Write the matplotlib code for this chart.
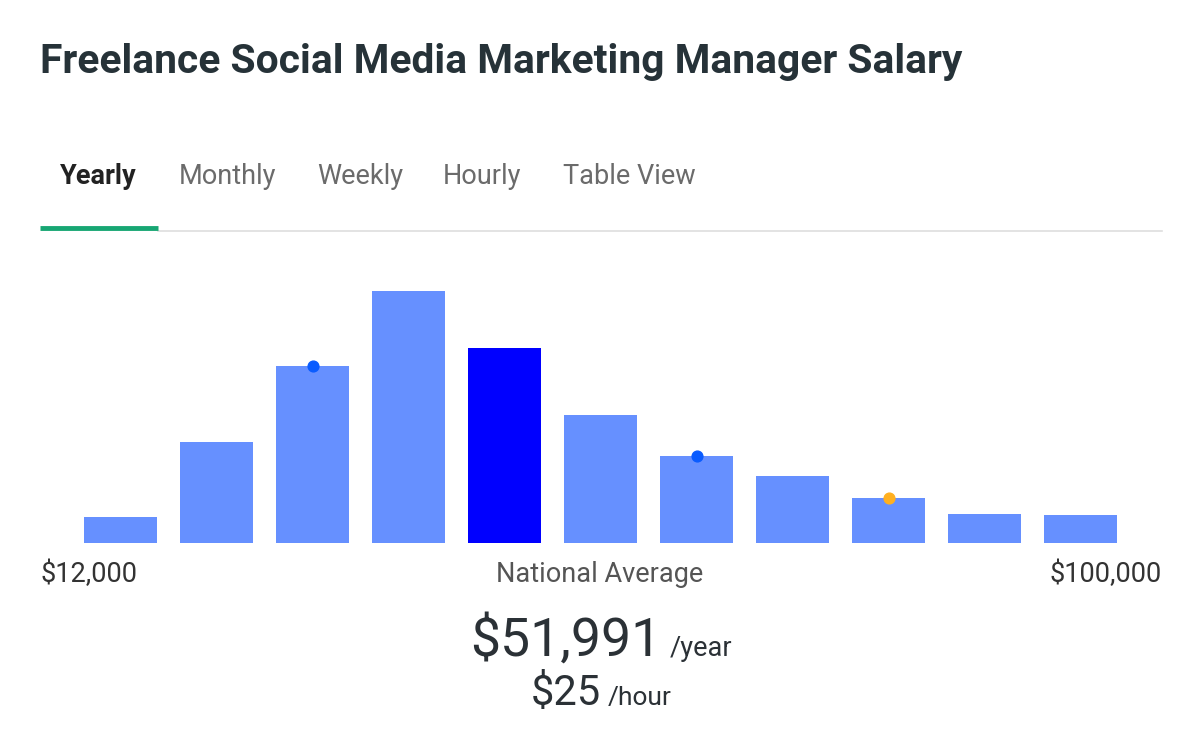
import matplotlib.pyplot as plt

# salary distribution (relative share per bucket)
counts = [26, 101, 177, 252, 195, 128, 87, 67, 45, 29, 28]
highlight = 4  # national average bucket
marker_bins = [2, 6, 8]
marker_colors = ["#0a5cff", "#0a5cff", "#ffb020"]
tabs = ["Yearly", "Monthly", "Weekly", "Hourly", "Table View"]
tab_x = [60, 179, 317, 443, 563]
low_label = "$12,000"
high_label = "$100,000"
avg_year = "$51,991"
avg_hour = "$25"

W, H = 1200, 749
plt.rcParams['font.family'] = ['Roboto', 'DejaVu Sans']

fig = plt.figure(figsize=(12, 7.49), dpi=100)

def fx(x):
    return x / W

def fy(y):
    return 1 - y / H

# title
fig.text(fx(40), fy(62), "Freelance Social Media Marketing Manager Salary",
         fontsize=29.3, fontweight='bold', color='#263238', va='center', ha='left')

# tabs
for i, t in enumerate(tabs):
    fig.text(fx(tab_x[i]), fy(177), t, fontsize=19.5, va='center', ha='left',
             color='#222222' if i == 0 else '#6b6b6b',
             fontweight='bold' if i == 0 else 'normal')

fig.add_artist(plt.Line2D([fx(158), fx(1162)], [fy(231), fy(231)], color='#dedede', lw=1.2))
fig.add_artist(plt.Line2D([fx(40), fx(158)], [fy(228), fy(228)], color='#17a673', lw=3.5,
                          solid_capstyle='butt'))

# bars
ax = fig.add_axes([fx(72.5), fy(543), fx(1129) - fx(72.5), fy(280) - fy(543)])
colors = ['#0000ff' if i == highlight else '#6690ff' for i in range(len(counts))]
ax.bar(range(len(counts)), counts, width=0.76, color=colors)
for b, c in zip(marker_bins, marker_colors):
    ax.scatter([b], [counts[b]], s=60, color=c, zorder=3, clip_on=False)
ax.set_xlim(-0.5, len(counts) - 0.5)
ax.set_ylim(0, 263)
ax.axis('off')

# range labels
fig.text(fx(40), fy(574), low_label, fontsize=19.5, color='#333333', va='center', ha='left')
fig.text(fx(600), fy(574), "National Average", fontsize=19.5, color='#555555', va='center', ha='center')
fig.text(fx(1162), fy(574), high_label, fontsize=19.5, color='#333333', va='center', ha='right')

# averages
fig.text(fx(661), fy(656), avg_year, fontsize=38.5, color='#2b3136', va='baseline', ha='right')
fig.text(fx(670), fy(656), "/year", fontsize=19.5, color='#2b3136', va='baseline', ha='left')
fig.text(fx(601), fy(705), avg_hour, fontsize=30, color='#2b3136', va='baseline', ha='right')
fig.text(fx(608), fy(705), "/hour", fontsize=19, color='#2b3136', va='baseline', ha='left')

fig.savefig("out.png", dpi=100, facecolor='white')
